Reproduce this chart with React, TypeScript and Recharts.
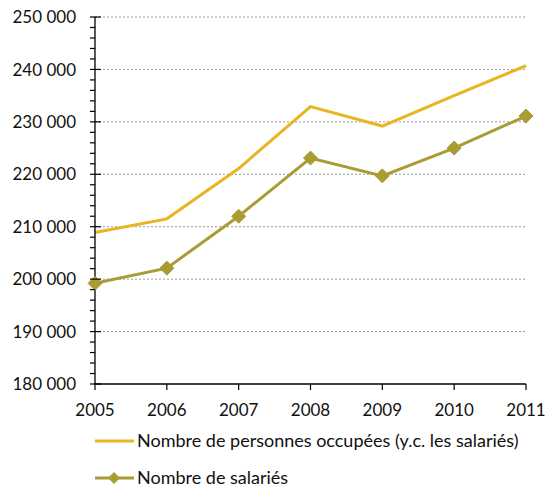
import React from "react";
import { LineChart, Line, XAxis, YAxis, ReferenceLine, Legend } from "recharts";

const years = [2005, 2006, 2007, 2008, 2009, 2010, 2011];
const occupees = [208900, 211500, 221100, 232900, 229200, 235000, 240700];
const salaries = [199200, 202100, 212000, 223100, 219700, 225000, 231100];
const majorTicks = [180000, 190000, 200000, 210000, 220000, 230000, 240000, 250000];
const minorStep = 2000;
const seriesNames = ["Nombre de personnes occupées (y.c. les salariés)", "Nombre de salariés"];

const YELLOW = "#E7B622";
const OLIVE = "#A99C33";
const FONT = "Lato, 'Open Sans', sans-serif";

const data = years.map((y, i) => ({ year: y, occupees: occupees[i], salaries: salaries[i] }));
const allTicks: number[] = [];
for (let v = majorTicks[0]; v <= majorTicks[majorTicks.length - 1]; v += minorStep) allTicks.push(v);

const fmt = (v: number) => {
  const s = String(v);
  return s.replace(/\B(?=(\d{3})+(?!\d))/g, " ");
};

const TICK_SIZE = 5;
const TICK_MARGIN = 14;

const YTick = (props: any) => {
  const { x, y, payload } = props;
  const v = payload.value as number;
  const isMajor = v % 10000 === 0;
  const ax = x + TICK_SIZE + TICK_MARGIN;
  return (
    <g>
      <line x1={ax - 5} x2={isMajor ? ax + 6 : ax} y1={y} y2={y} stroke="#000" strokeWidth={1.2} />
      {isMajor && (
        <text x={x} y={y} dy="0.36em" textAnchor="end" fontSize={17} fontFamily={FONT} fill="#111">
          {fmt(v)}
        </text>
      )}
    </g>
  );
};

const Diamond = (props: any) => {
  const { cx, cy, size = 7 } = props;
  if (cx == null || cy == null) return null;
  const r = size;
  return (
    <polygon
      points={`${cx},${cy - r} ${cx + r},${cy} ${cx},${cy + r} ${cx - r},${cy}`}
      fill={OLIVE}
      stroke={OLIVE}
    />
  );
};

const LegendContent = () => (
  <div style={{ position: "relative", width: 547, height: 76 }}>
    <svg width={547} height={76} style={{ position: "absolute", left: 0, top: 0 }}>
      <line x1={95} x2={134} y1={27} y2={27} stroke={YELLOW} strokeWidth={3} />
      <text x={137} y={27} dy="0.36em" fontSize={18} fontFamily={FONT} fill="#111">{seriesNames[0]}</text>
      <line x1={95} x2={134} y1={64} y2={64} stroke={OLIVE} strokeWidth={3} />
      <Diamond cx={114} cy={64} size={5.5} />
      <text x={137} y={64} dy="0.36em" fontSize={18} fontFamily={FONT} fill="#111">{seriesNames[1]}</text>
    </svg>
  </div>
);

export default function App() {
  return (
    <div>
      <style>{`body{margin:0}`}</style>
      <LineChart width={547} height={490} data={data} margin={{ top: 17, right: 21, bottom: 0, left: 0 }}>
        {majorTicks.slice(1).map((v) => (
          <ReferenceLine key={v} y={v} stroke="#9a9a9a" strokeDasharray="2 2" strokeWidth={1} ifOverflow="visible" />
        ))}
        <XAxis
          dataKey="year"
          type="number"
          domain={[years[0], years[years.length - 1]]}
          ticks={years}
          height={30}
          tickSize={6}
          tickMargin={14}
          axisLine={{ stroke: "#000", strokeWidth: 1.3 }}
          tickLine={{ stroke: "#000", strokeWidth: 1.2 }}
          tick={{ fontSize: 17, fontFamily: FONT, fill: "#111" }}
        />
        <YAxis
          type="number"
          domain={[majorTicks[0], majorTicks[majorTicks.length - 1]]}
          ticks={allTicks}
          interval={0}
          width={95}
          tickSize={TICK_SIZE}
          tickMargin={TICK_MARGIN}
          tickLine={false}
          axisLine={{ stroke: "#000", strokeWidth: 1.3 }}
          tick={<YTick />}
        />
        <Line
          dataKey="occupees"
          name={seriesNames[0]}
          stroke={YELLOW}
          strokeWidth={3}
          dot={false}
          isAnimationActive={false}
        />
        <Line
          dataKey="salaries"
          name={seriesNames[1]}
          stroke={OLIVE}
          strokeWidth={3}
          dot={(p: any) => <Diamond key={p.index} cx={p.cx} cy={p.cy} size={7} />}
          isAnimationActive={false}
        />
        <Legend
          verticalAlign="bottom"
          content={<LegendContent />}
          wrapperStyle={{ left: 0, bottom: 0, width: 547, height: 76 }}
        />
      </LineChart>
    </div>
  );
}
